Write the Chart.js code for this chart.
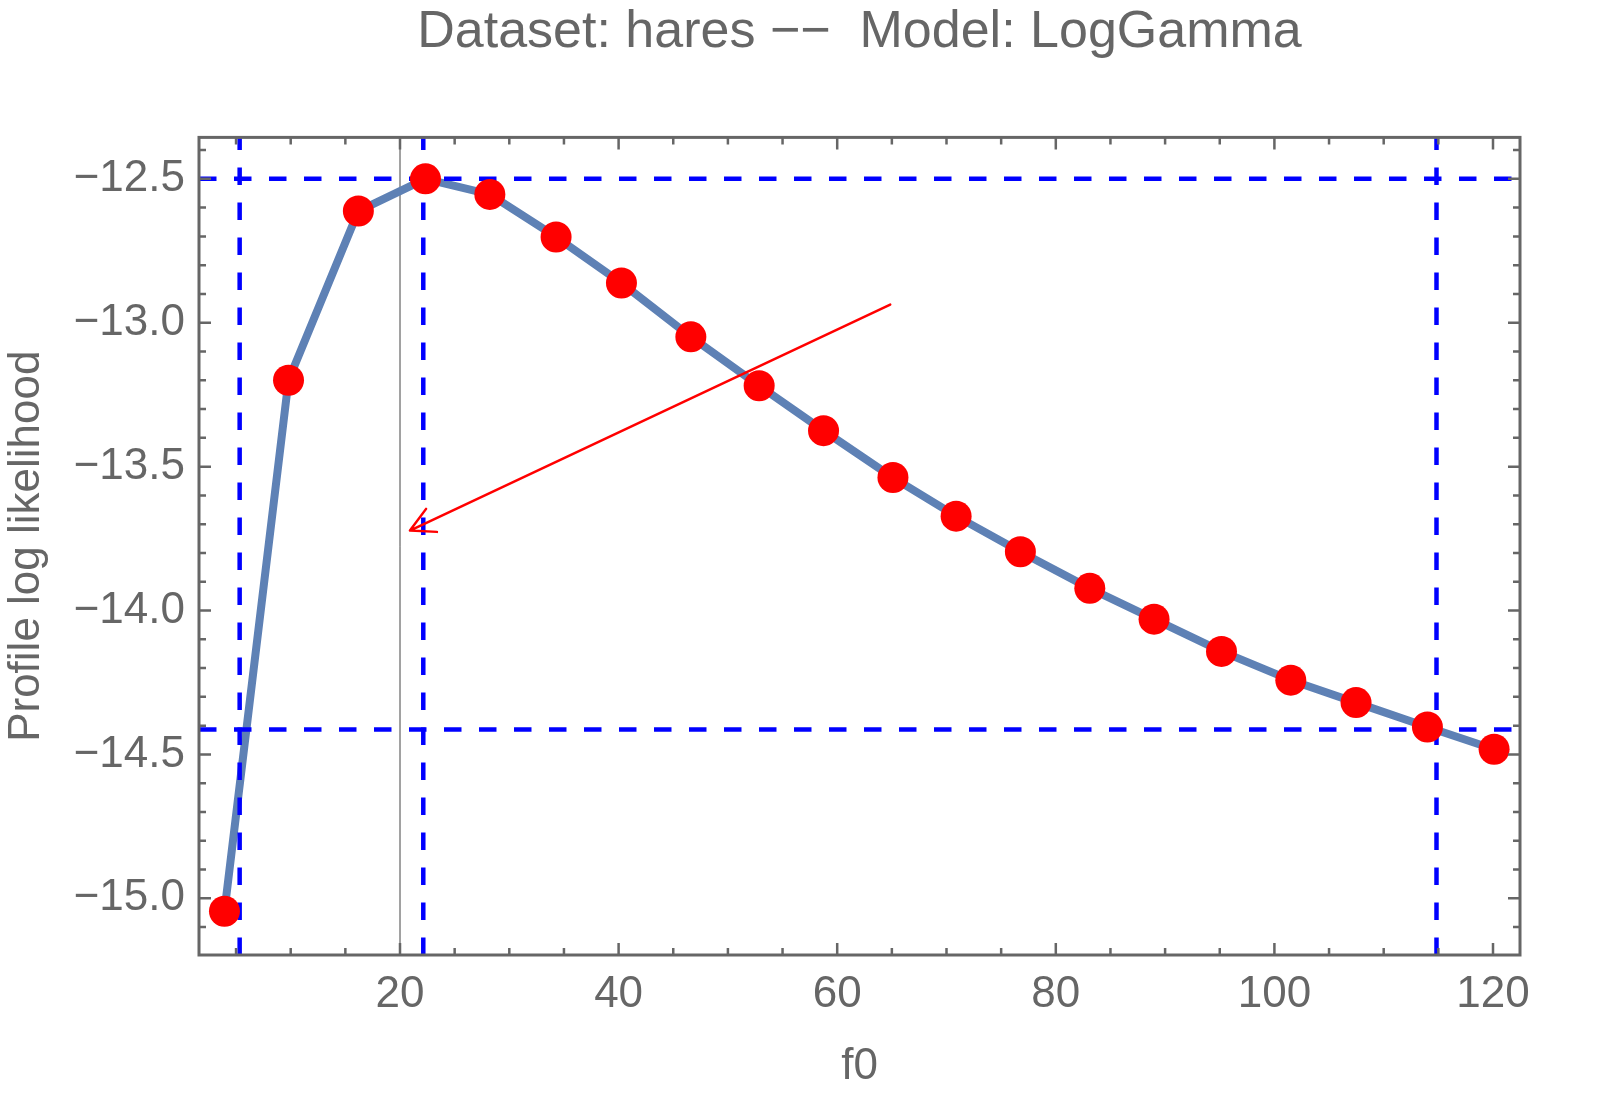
<!DOCTYPE html>
<html>
<head>
<meta charset="utf-8">
<title>Profile log likelihood</title>
<script src="https://cdn.jsdelivr.net/npm/chart.js@4.4.1/dist/chart.umd.min.js"></script>
<style>
  html, body { margin: 0; padding: 0; background: #fff; }
  canvas { display: block; }
</style>
</head>
<body>
<canvas id="chart" width="1600" height="1095"></canvas>
<script>
// profile log likelihood over f0
const f0 = [3.94, 9.8, 16.19, 22.33, 28.22, 34.28, 40.26, 46.61, 52.86, 58.75,
            65.1, 70.88, 76.76, 83.11, 88.99, 95.16, 101.5, 107.47, 114.0, 120.1];
const logLik = [-15.045, -13.2, -12.612, -12.5, -12.554, -12.702, -12.862, -13.049, -13.219, -13.375,
                -13.538, -13.672, -13.796, -13.923, -14.03, -14.142, -14.242, -14.32, -14.405, -14.482];

// dashed reference lines (max and max - cutoff, CI bounds + MLE)
const hLines = [-12.5, -14.413];
const vLines = [5.33, 22.13, 114.83];
const refLine = 20;

// arrow: from -> to, in data units
const arrowFrom = [64.85, -12.937];
const arrowTo = [20.91, -13.722];

const xRange = [1.61, 122.47];
const yRange = [-15.197, -12.356];
const xTicks = [20, 40, 60, 80, 100, 120];
const yTicks = [-12.5, -13.0, -13.5, -14.0, -14.5, -15.0];
const xMinorStep = 5;
const yMinorStep = 0.1;

const FONT = "'Liberation Sans', Arial, sans-serif";
const GREY = '#666666';

const pts = f0.map((x, i) => ({ x: x, y: logLik[i] }));

const dashed = [];
hLines.forEach(v => dashed.push({ data: [{ x: xRange[0], y: v }, { x: xRange[1], y: v }] }));
vLines.forEach(v => dashed.push({ data: [{ x: v, y: yRange[0] }, { x: v, y: yRange[1] }] }));

// inward ticks on all four sides + frame
const frameTicks = {
  id: 'frameTicks',
  afterDraw(chart) {
    const { ctx, chartArea: a, scales: { x, y } } = chart;
    ctx.save();
    ctx.strokeStyle = GREY;
    ctx.lineWidth = 2.5;
    ctx.beginPath();
    for (let k = Math.ceil(xRange[0] / xMinorStep); k * xMinorStep <= xRange[1]; k++) {
      const v = k * xMinorStep;
      const len = xTicks.includes(v) ? 12 : 7;
      const px = x.getPixelForValue(v);
      ctx.moveTo(px, a.bottom); ctx.lineTo(px, a.bottom - len);
      ctx.moveTo(px, a.top); ctx.lineTo(px, a.top + len);
    }
    for (let k = Math.ceil(yRange[0] / yMinorStep - 1e-6); k * yMinorStep <= yRange[1] + 1e-9; k++) {
      const v = k * yMinorStep;
      const major = yTicks.some(t => Math.abs(t - v) < 1e-6);
      const len = major ? 12 : 7;
      const py = y.getPixelForValue(v);
      ctx.moveTo(a.left, py); ctx.lineTo(a.left + len, py);
      ctx.moveTo(a.right, py); ctx.lineTo(a.right - len, py);
    }
    ctx.stroke();
    ctx.lineWidth = 3;
    ctx.strokeRect(a.left, a.top, a.right - a.left, a.bottom - a.top);
    ctx.restore();
  }
};

const arrow = {
  id: 'arrow',
  afterDatasetsDraw(chart) {
    const { ctx, scales: { x, y } } = chart;
    const x0 = x.getPixelForValue(arrowFrom[0]), y0 = y.getPixelForValue(arrowFrom[1]);
    const x1 = x.getPixelForValue(arrowTo[0]), y1 = y.getPixelForValue(arrowTo[1]);
    const ang = Math.atan2(y0 - y1, x0 - x1);
    ctx.save();
    ctx.strokeStyle = '#ff0000';
    ctx.lineWidth = 2.5;
    ctx.lineCap = 'round';
    ctx.beginPath();
    ctx.moveTo(x0, y0);
    ctx.lineTo(x1, y1);
    [-1, 1].forEach(s => {
      ctx.moveTo(x1, y1);
      ctx.lineTo(x1 + 27 * Math.cos(ang + s * 0.49), y1 + 27 * Math.sin(ang + s * 0.49));
    });
    ctx.stroke();
    ctx.restore();
  }
};

new Chart(document.getElementById('chart').getContext('2d'), {
  type: 'scatter',
  data: {
    datasets: [
      {
        data: pts, showLine: false, order: 0,
        pointRadius: 15.5, pointBackgroundColor: '#ff0000', pointBorderWidth: 0
      },
      ...dashed.map(d => ({
        data: d.data, showLine: true, order: 1, pointRadius: 0,
        borderColor: '#0000ff', borderWidth: 4.5, borderDash: [17.5, 17.5]
      })),
      {
        data: pts, showLine: true, order: 2, pointRadius: 0,
        borderColor: '#5e81b5', borderWidth: 8, borderJoinStyle: 'round', tension: 0
      },
      {
        data: [{ x: refLine, y: yRange[0] }, { x: refLine, y: yRange[1] }],
        showLine: true, order: 3, pointRadius: 0,
        borderColor: '#444444', borderWidth: 1
      }
    ]
  },
  options: {
    responsive: false,
    animation: false,
    devicePixelRatio: 1,
    layout: { padding: { top: 0, right: 80, bottom: 0, left: 0 } },
    plugins: {
      legend: { display: false },
      tooltip: { enabled: false },
      title: {
        display: true,
        fullSize: false,
        text: 'Dataset: hares \u2212\u2212  Model: LogGamma',
        color: GREY,
        font: { family: FONT, size: 52, weight: 'normal' },
        padding: { top: 1, bottom: 74 }
      }
    },
    scales: {
      x: {
        type: 'linear',
        min: xRange[0], max: xRange[1],
        afterBuildTicks: s => { s.ticks = xTicks.map(v => ({ value: v })); },
        afterFit: s => { s.height = 140; },
        grid: { display: false, drawTicks: false },
        border: { display: false },
        ticks: {
          color: GREY, font: { family: FONT, size: 44 }, padding: 13,
          maxRotation: 0, autoSkip: false,
          callback: v => String(v)
        },
        title: {
          display: true, text: 'f0', color: GREY,
          font: { family: FONT, size: 44 }, padding: { top: 0, bottom: 2 }
        }
      },
      y: {
        type: 'linear',
        min: yRange[0], max: yRange[1],
        afterBuildTicks: s => { s.ticks = yTicks.map(v => ({ value: v })); },
        afterFit: s => { s.width = 199; },
        grid: { display: false, drawTicks: false },
        border: { display: false },
        ticks: {
          color: GREY, font: { family: FONT, size: 44 }, padding: 14,
          autoSkip: false,
          callback: v => '\u2212' + Math.abs(v).toFixed(1)
        },
        title: {
          display: true, text: 'Profile log likelihood', color: GREY,
          font: { family: FONT, size: 44 }, padding: { top: 0, bottom: 0 }
        }
      }
    }
  },
  plugins: [frameTicks, arrow]
});
</script>
</body>
</html>
